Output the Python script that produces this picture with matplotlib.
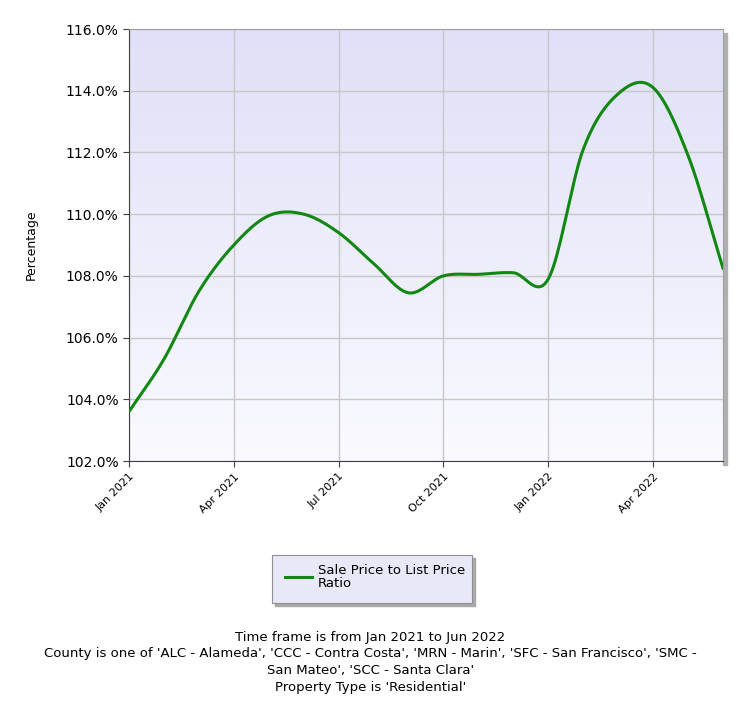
import numpy as np
import matplotlib
matplotlib.use("Agg")
import matplotlib.pyplot as plt
from matplotlib.patches import Rectangle

months = np.arange(18)
values = [103.6, 105.3, 107.5, 109.0, 109.95, 110.0, 109.4, 108.4, 107.45,
          108.0, 108.05, 108.1, 107.9, 112.1, 113.9, 114.1, 111.9, 108.25]
tick_pos = [0, 3, 6, 9, 12, 15]
tick_labels = ["Jan 2021", "Apr 2021", "Jul 2021", "Oct 2021", "Jan 2022", "Apr 2022"]
series_name = "Sale Price to List Price\nRatio"
footer = ("Time frame is from Jan 2021 to Jun 2022\n"
          "County is one of 'ALC - Alameda', 'CCC - Contra Costa', 'MRN - Marin', 'SFC - San Francisco', 'SMC -\n"
          "San Mateo', 'SCC - Santa Clara'\n"
          "Property Type is 'Residential'")


def catmull_rom(x, y, n=20):
    x = np.asarray(x, float)
    y = np.asarray(y, float)
    xp = np.concatenate([[2 * x[0] - x[1]], x, [2 * x[-1] - x[-2]]])
    yp = np.concatenate([[2 * y[0] - y[1]], y, [2 * y[-1] - y[-2]]])
    xs, ys = [], []
    t = np.linspace(0, 1, n, endpoint=False)
    for i in range(1, len(xp) - 2):
        for arr, out in ((xp, xs), (yp, ys)):
            p0, p1, p2, p3 = arr[i - 1:i + 3]
            out.extend(0.5 * (2 * p1 + (-p0 + p2) * t + (2 * p0 - 5 * p1 + 4 * p2 - p3) * t ** 2
                              + (-p0 + 3 * p1 - 3 * p2 + p3) * t ** 3))
    xs.append(x[-1])
    ys.append(y[-1])
    return np.array(xs), np.array(ys)


fig = plt.figure(figsize=(7.41, 7.11), dpi=100)
W, H = 741, 711
ax = fig.add_axes([129 / W, 1 - 461 / H, (723 - 129) / W, (461 - 29) / H])

# gradient background
grad = np.linspace(0, 1, 256).reshape(-1, 1)
cmap = matplotlib.colors.LinearSegmentedColormap.from_list("bg", ["#e0e0f8", "#fafaff"])
ax.imshow(grad, aspect="auto", cmap=cmap, extent=[0, 17, 102, 116], origin="upper", zorder=0)

xs, ys = catmull_rom(months, values)
ax.plot(xs, ys, color="#118811", lw=2.2, zorder=3)

ax.set_xlim(0, 17)
ax.set_ylim(102, 116)
ax.set_yticks(np.arange(102, 117, 2))
ax.set_yticklabels([f"{v:.1f}%" for v in np.arange(102, 117, 2)], fontsize=10)
ax.set_xticks(tick_pos)
ax.set_xticklabels(tick_labels, rotation=45, ha="right", rotation_mode="anchor", fontsize=8)
ax.grid(True, color="#c8c8c8", lw=1)
ax.set_axisbelow(True)
for s in ["top", "right"]:
    ax.spines[s].set_color("#a0a0a0")
for s in ["left", "bottom"]:
    ax.spines[s].set_color("#404040")
ax.tick_params(length=4, color="#404040")
ax.set_ylabel("Percentage", fontsize=9, labelpad=20)

# shadow on right
fig.patches.append(Rectangle((723 / W, 1 - 465 / H), 4 / W, (465 - 33) / H,
                             transform=fig.transFigure, color="#b0b0b0", zorder=-1))

# legend box
fig.patches.append(Rectangle((275 / W, 1 - 606 / H), 200 / W, 48 / H,
                             transform=fig.transFigure, color="#a8a8a8", zorder=1))
fig.patches.append(Rectangle((272 / W, 1 - 603 / H), 200 / W, 48 / H,
                             transform=fig.transFigure, facecolor="#e8e8f8",
                             edgecolor="#909090", lw=0.8, zorder=2))
fig.lines.append(plt.Line2D([285 / W, 312 / W], [1 - 577 / H] * 2,
                            transform=fig.transFigure, color="#118811", lw=2.2, zorder=3))
fig.text(318 / W, 1 - 577 / H, series_name, fontsize=9.5, va="center", ha="left",
         linespacing=0.95, zorder=4)

fig.text(0.5, 1 - 631 / H, footer, ha="center", va="top", fontsize=9.5, linespacing=1.35)

fig.savefig("out.png", dpi=100)
